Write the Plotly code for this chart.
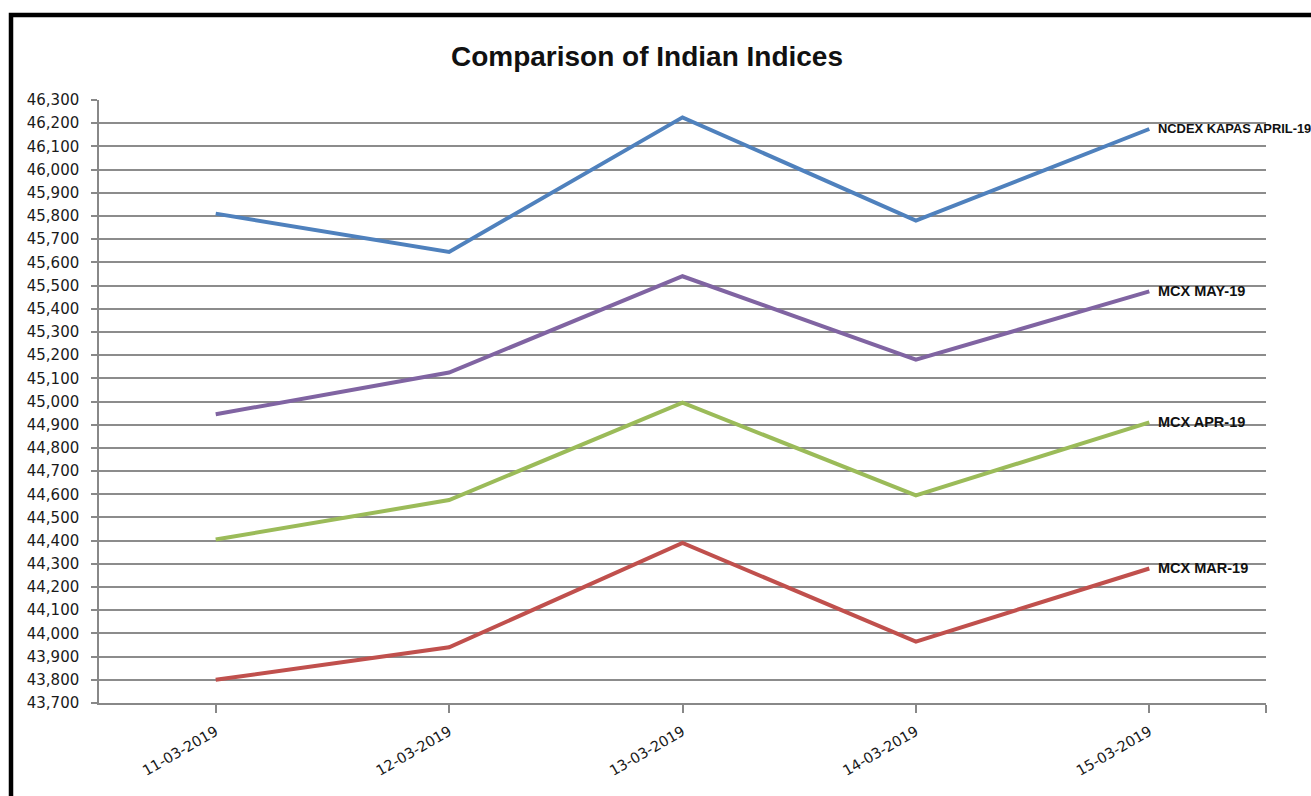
import plotly.graph_objects as go

dates = ["11-03-2019", "12-03-2019", "13-03-2019", "14-03-2019", "15-03-2019"]
series_names = ["NCDEX KAPAS APRIL-19", "MCX MAY-19", "MCX APR-19", "MCX MAR-19"]
ncdex_kapas_apr19 = [45810, 45645, 46225, 45780, 46175]
mcx_may19 = [44945, 45125, 45540, 45180, 45475]
mcx_apr19 = [44405, 44575, 44995, 44595, 44910]
mcx_mar19 = [43800, 43940, 44390, 43965, 44280]
y_min, y_max, y_step = 43700, 46300, 100

series_values = [ncdex_kapas_apr19, mcx_may19, mcx_apr19, mcx_mar19]
colors = ["#4F81BD", "#8064A2", "#9BBB59", "#C0504D"]
label_sizes = [12.9, 14.5, 14.5, 14.5]

W, H = 1311, 796
L, R, T, B = 99, 1266, 100, 703

x_idx = list(range(len(dates)))

fig = go.Figure()
for name, vals, col, fs in zip(series_names, series_values, colors, label_sizes):
    fig.add_trace(go.Scatter(x=x_idx, y=vals, mode="lines", name=name,
                             line=dict(color=col, width=4)))
    fig.add_annotation(x=x_idx[-1], y=vals[-1], text="<b>" + name + "</b>",
                       showarrow=False, xanchor="left", yanchor="middle", xshift=7,
                       font=dict(family="Liberation Sans, Arial", size=fs, color="#111111"))

def px_x(p):
    return (p - L) / (R - L)

def px_y(p):
    return (B - p) / (B - T)

# outer black frame (top and left visible)
fig.add_shape(type="rect", xref="paper", yref="paper",
              x0=px_x(11), x1=px_x(1330), y0=px_y(815), y1=px_y(15),
              line=dict(color="black", width=4.5), fillcolor="rgba(0,0,0,0)", layer="above")

fig.update_layout(
    width=W, height=H,
    margin=dict(l=L, r=W - R, t=T, b=H - B),
    paper_bgcolor="white", plot_bgcolor="white",
    showlegend=False,
    title=dict(text="<b>Comparison of Indian Indices</b>", x=647 / W, xanchor="center",
               y=1 - 56 / H, yanchor="middle", yref="container",
               font=dict(family="Liberation Sans, Arial", size=28, color="#111111")),
    font=dict(family="DejaVu Sans", size=15, color="#1a1a1a"),
)

fig.update_xaxes(range=[-0.5, len(dates) - 0.5],
                 tickvals=x_idx + [len(dates) - 0.5], ticktext=dates + [""],
                 tickangle=-30, ticks="outside", ticklen=8, tickcolor="#888888", tickwidth=1.5,
                 showline=True, linecolor="#888888", linewidth=1.5,
                 showgrid=False, zeroline=False, ticklabelstandoff=5,
                 tickfont=dict(family="DejaVu Sans", size=14.5, color="#1a1a1a"))

fig.update_yaxes(range=[y_min, y_max], dtick=y_step, tick0=y_min, tickformat=",d",
                 ticks="outside", ticklen=6, tickcolor="#888888", tickwidth=1.5,
                 showline=True, linecolor="#888888", linewidth=1.5,
                 showgrid=True, gridcolor="#8c8c8c", gridwidth=1.5, zeroline=False,
                 ticklabelstandoff=9,
                 tickfont=dict(family="DejaVu Sans", size=15, color="#1a1a1a"))

fig.write_html("out.html")
